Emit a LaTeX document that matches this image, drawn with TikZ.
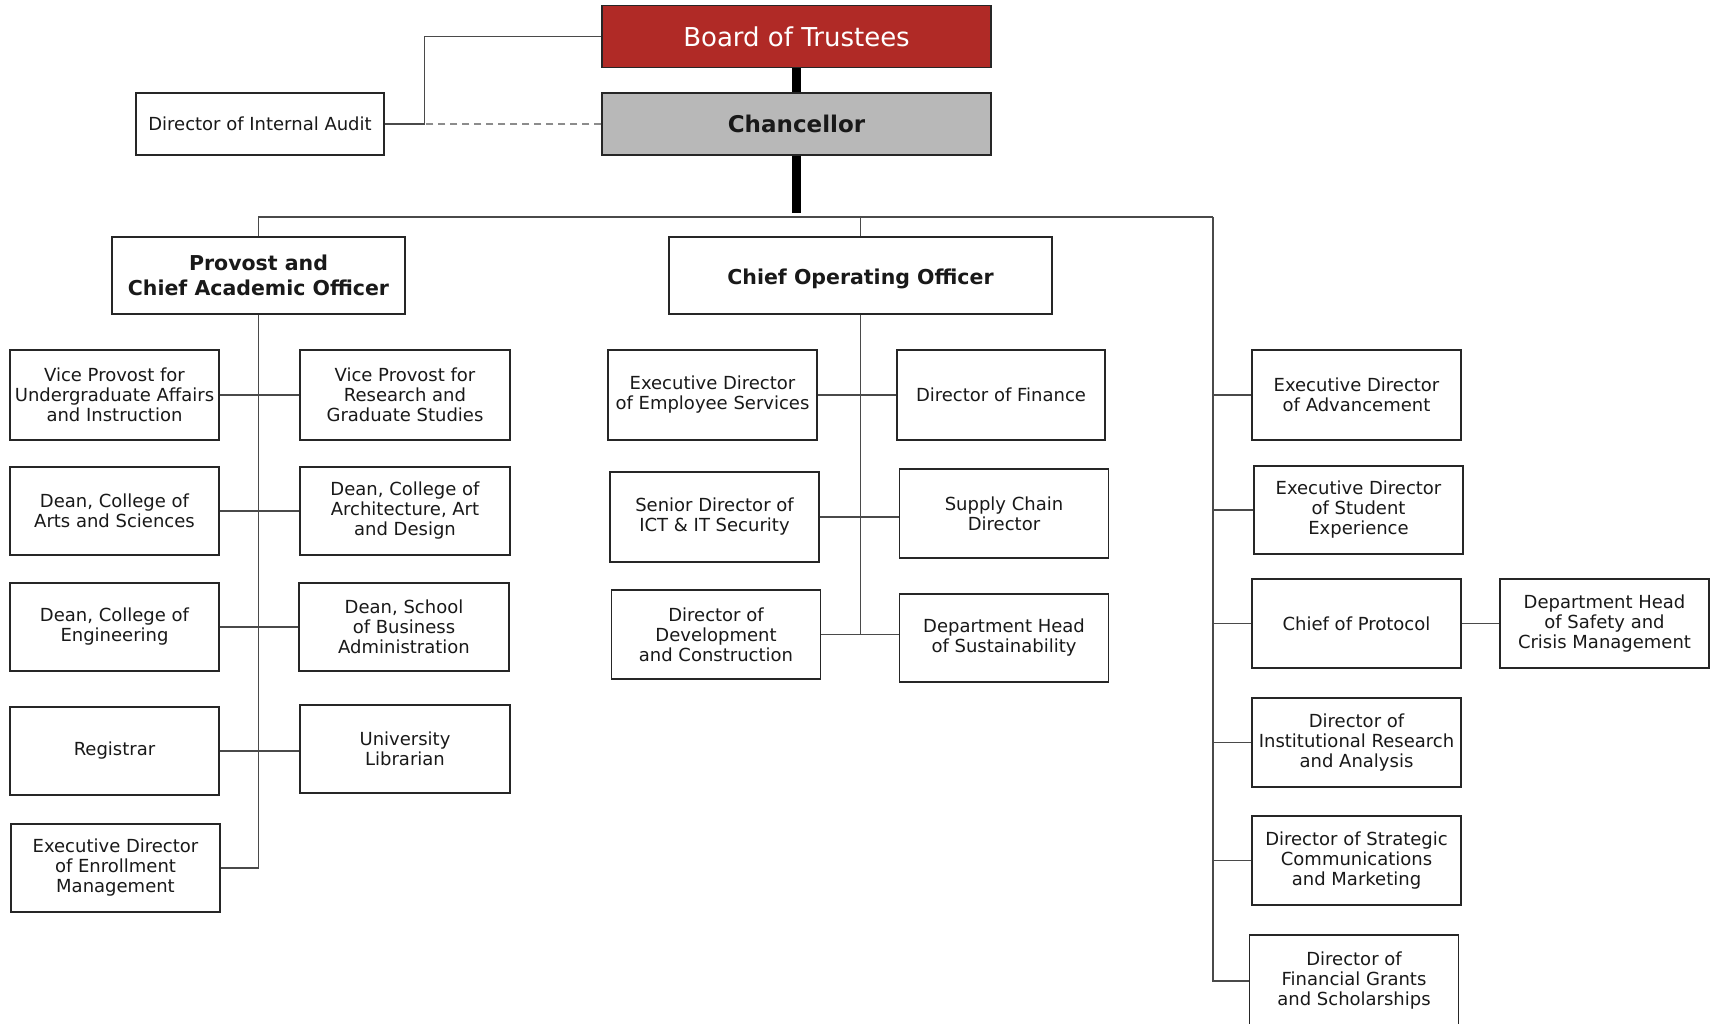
\documentclass[tikz,border=0pt]{standalone}
\usepackage{fontspec}
\setmainfont{DejaVu Sans}
\definecolor{boardred}{HTML}{B02A26}
\definecolor{chgray}{HTML}{B8B8B8}
\definecolor{linegray}{HTML}{4A4A4A}
\begin{document}
\begin{tikzpicture}[x=1pt,y=-1pt,
  box/.style={draw=black!85, line width=1.1pt, fill=white, align=center, inner sep=2pt,
    font=\fontsize{18}{20}\selectfont, text=black!90},
  headbox/.style={box, font=\fontsize{20.5}{25}\selectfont\bfseries},
  conn/.style={draw=linegray, line width=1.5pt},
  trunk/.style={draw=black, line width=9pt},
]
\useasboundingbox (0,0) rectangle (1711,1024);
\clip (0,0) rectangle (1711,1024);
% top
\node[box, fill=boardred, text=white, minimum width=389, minimum height=62,
  font=\fontsize{26}{30}\selectfont] (board) at (796.5,36.6) {Board of Trustees};
\node[box, fill=chgray, minimum width=389, minimum height=62,
  font=\fontsize{23}{27}\selectfont\bfseries] (chanc) at (796.5,124) {Chancellor};
\node[box, minimum width=248, minimum height=62] (audit) at (260,124) {Director of Internal Audit};
\node[headbox, minimum width=293, minimum height=77] (provost) at (258.5,275.5) {Provost and\\Chief Academic Officer};
\node[headbox, minimum width=383, minimum height=77] (coo) at (860.5,275.5) {\raisebox{-3.5pt}[\height][\depth]{Chief Operating Officer}};
% provost children
\node[box, minimum width=209, minimum height=90] (vpug) at (114.5,395) {Vice Provost for\\Undergraduate Affairs\\and Instruction};
\node[box, minimum width=209, minimum height=88] (das) at (114.5,511) {Dean, College of\\Arts and Sciences};
\node[box, minimum width=209, minimum height=88] (deng) at (114.5,627) {Dean, College of\\Engineering};
\node[box, minimum width=209, minimum height=88] (reg) at (114.5,751) {Registrar};
\node[box, minimum width=209, minimum height=88] (enroll) at (115.5,868) {Executive Director\\of Enrollment\\Management};
\node[box, minimum width=210, minimum height=90] (vpres) at (405,395) {Vice Provost for\\Research and\\Graduate Studies};
\node[box, minimum width=210, minimum height=88] (darch) at (405,511) {Dean, College of\\Architecture, Art\\and Design};
\node[box, minimum width=210, minimum height=88] (dbus) at (404,627) {Dean, School\\of Business\\Administration};
\node[box, minimum width=210, minimum height=88] (lib) at (405,749) {University\\Librarian};
% coo children
\node[box, minimum width=209, minimum height=90] (emp) at (712.5,395) {Executive Director\\of Employee Services};
\node[box, minimum width=208, minimum height=90] (fin) at (1001,395) {Director of Finance};
\node[box, minimum width=209, minimum height=90] (ict) at (714.5,517) {Senior Director of\\ICT \& IT Security};
\node[box, minimum width=209, minimum height=89] (supply) at (1004,513.5) {Supply Chain\\Director};
\node[box, minimum width=209, minimum height=89] (devc) at (716,634.5) {Director of\\Development\\and Construction};
\node[box, minimum width=209, minimum height=88] (sust) at (1004,638) {Department Head\\of Sustainability};
% right column
\node[box, minimum width=209, minimum height=90] (adv) at (1356.5,395) {Executive Director\\of Advancement};
\node[box, minimum width=209, minimum height=88] (stud) at (1358.5,510) {Executive Director\\of Student\\Experience};
\node[box, minimum width=209, minimum height=89] (prot) at (1356.5,623.5) {Chief of Protocol};
\node[box, minimum width=209, minimum height=89] (safety) at (1604.5,623.5) {Department Head\\of Safety and\\Crisis Management};
\node[box, minimum width=209, minimum height=89] (ir) at (1356.5,742.5) {Director of\\Institutional Research\\and Analysis};
\node[box, minimum width=209, minimum height=89] (strat) at (1356.5,860.5) {Director of Strategic\\Communications\\and Marketing};
\node[box, minimum width=209, minimum height=92] (fg) at (1354,981) {Director of\\Financial Grants\\and Scholarships};
% coordinates
\coordinate (hub) at (796.5,217);
\coordinate (rtop) at (1213,217);
\coordinate (aj) at (424.5,124);
% trunk
\draw[trunk] (board.south) -- (chanc.north);
\draw[trunk] (chanc.south) -- ([yshift=4pt]hub);
\draw[conn] (provost.north) |- (rtop);
\draw[conn] (coo.north) -- (coo.north |- hub);
% audit
\draw[conn] (board.west) -| (aj) -- (audit.east);
\draw[line width=1.4pt, draw=black!45, dash pattern=on 7pt off 5pt] (chanc.west) -- (aj);
% provost branch
\draw[conn] (provost.south) |- (enroll.east);
\draw[conn] (vpug.east) -- (vpres.west);
\draw[conn] (das.east) -- (darch.west);
\draw[conn] (deng.east) -- (deng.east -| dbus.west);
\draw[conn] (reg.east) -- (reg.east -| lib.west);
% coo branch
\draw[conn] (coo.south) -- (coo.south |- devc.east);
\draw[conn] (emp.east) -- (fin.west);
\draw[conn] (ict.east) -- (ict.east -| supply.west);
\draw[conn] (devc.east) -- (devc.east -| sust.west);
% right branch
\draw[conn] (rtop) |- (fg.west);
\draw[conn] (adv.west) -- (adv.west -| rtop);
\draw[conn] (stud.west) -- (stud.west -| rtop);
\draw[conn] (prot.west) -- (prot.west -| rtop);
\draw[conn] (prot.east) -- (safety.west);
\draw[conn] (ir.west) -- (ir.west -| rtop);
\draw[conn] (strat.west) -- (strat.west -| rtop);
\end{tikzpicture}
\end{document}
